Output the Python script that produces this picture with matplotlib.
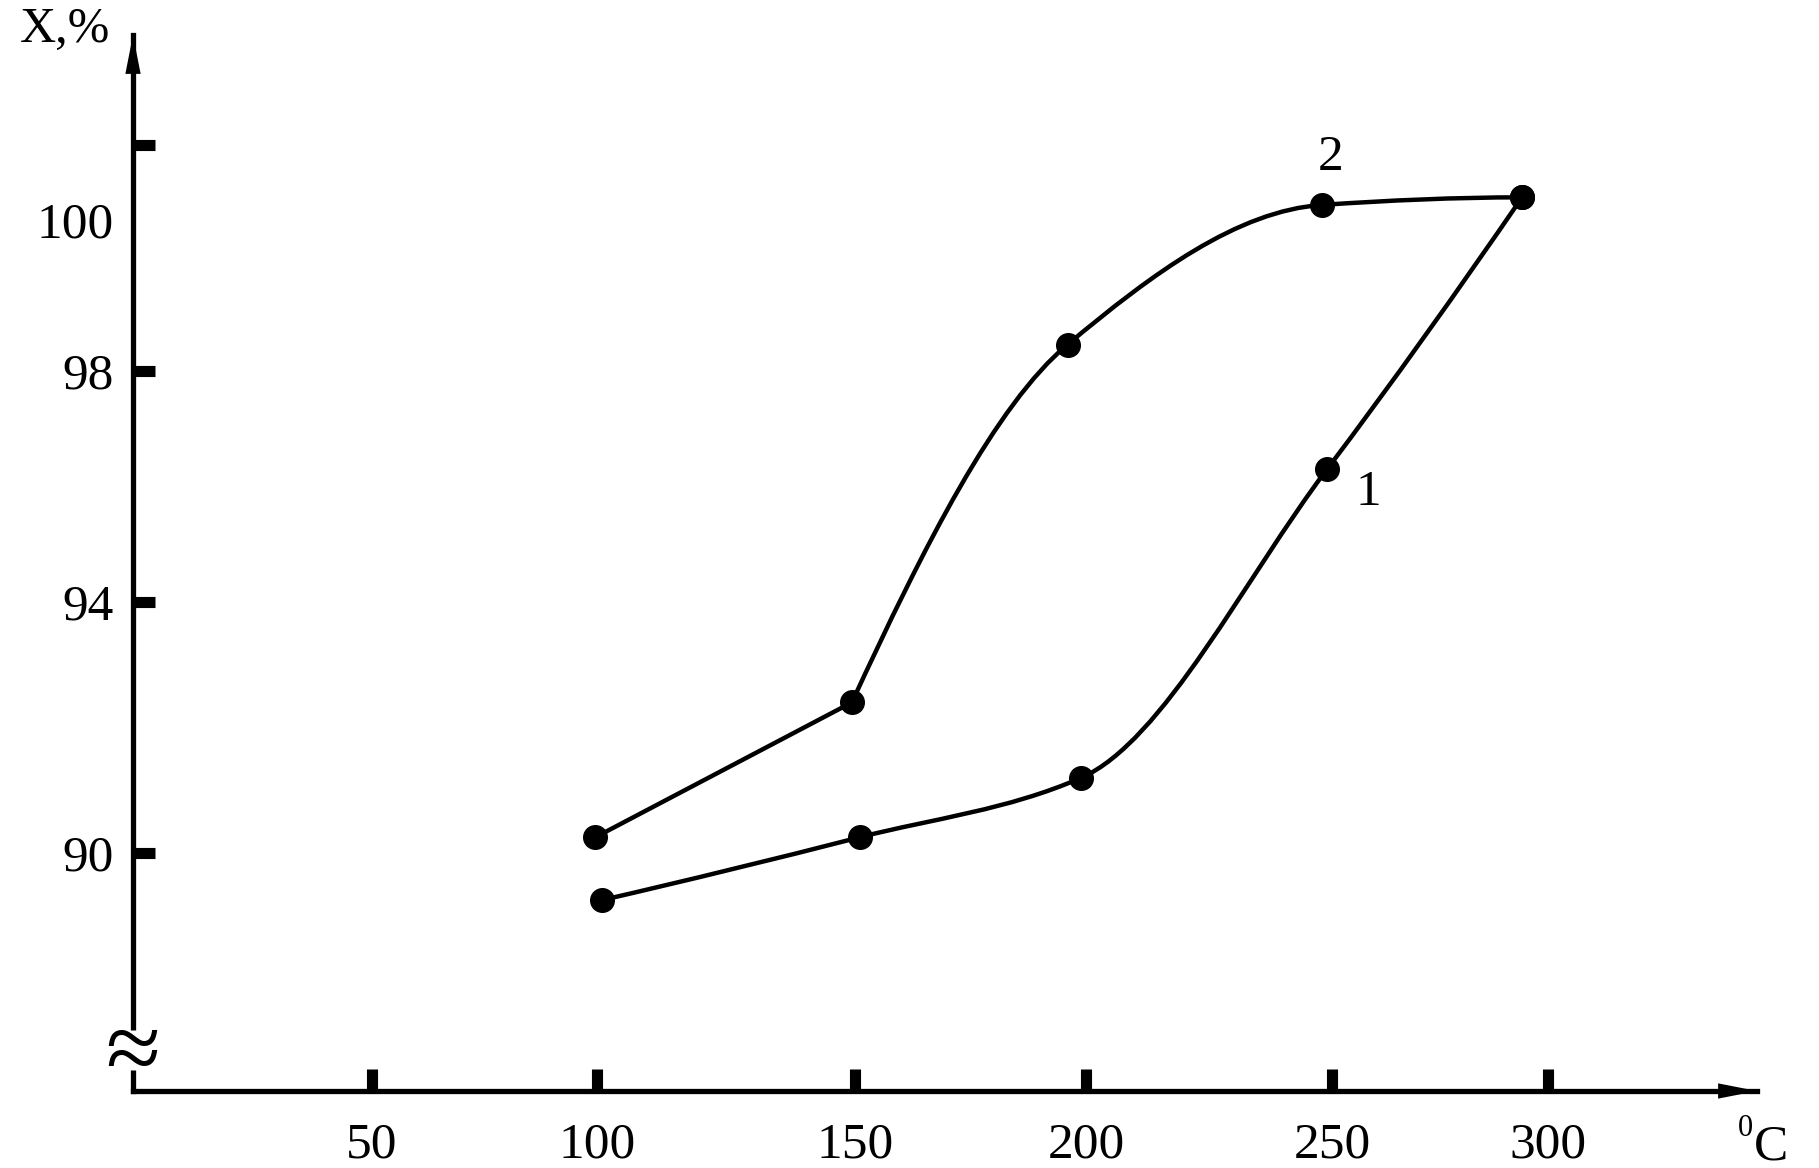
import numpy as np
import matplotlib
matplotlib.use('Agg')
import matplotlib.pyplot as plt
from matplotlib.path import Path
from matplotlib.patches import PathPatch

plt.rcParams['font.family'] = ['Liberation Serif', 'DejaVu Serif']

# temperature (deg C) and conversion X (%)
t1 = [101, 151, 199, 249, 294]
x1 = [89.25, 90.25, 91.2, 96.3, 100.3]
t2 = [99.6, 149.4, 196, 248, 294]
x2 = [90.25, 92.4, 98.35, 100.2, 100.3]
corners2 = [1]   # curve 2 is drawn with a sharp bend at 150 C

xticks = [50, 100, 150, 200, 250, 300]
yticks = [90, 94, 98, 100, 101]
ylabels = ['90', '94', '98', '100', '']

# the hand drawn axes are unevenly spaced: pixel position of the labelled values
xpix = [372, 597, 855, 1086, 1332, 1548]
yvals = [90, 94, 98, 100]
ypix = [853, 602, 371, 220]

W, H = 1819, 1168


def anchors(vals, pix):
    vals = np.asarray(vals, float)
    pix = np.asarray(pix, float)
    lo = pix[0] - (pix[1] - pix[0]) / (vals[1] - vals[0]) * 1000
    hi = pix[-1] + (pix[-1] - pix[-2]) / (vals[-1] - vals[-2]) * 1000
    return np.r_[vals[0] - 1000, vals, vals[-1] + 1000], np.r_[lo, pix, hi]


xv, xp = anchors(xticks, xpix)
yv, yp = anchors(yvals, -np.asarray(ypix, float))

fx = lambda v: np.interp(v, xv, xp)
ix = lambda p: np.interp(p, xp, xv)
fy = lambda v: np.interp(v, yv, yp)
iy = lambda p: np.interp(p, yp, yv)


def pchip_slopes(px, py):
    h = np.diff(px)
    m = np.diff(py) / h
    n = len(px)
    d = np.zeros(n)
    if n == 2:
        d[:] = m[0]
        return d
    for k in range(1, n - 1):
        if m[k - 1] * m[k] <= 0:
            d[k] = 0
        else:
            w1 = 2 * h[k] + h[k - 1]
            w2 = h[k] + 2 * h[k - 1]
            d[k] = (w1 + w2) / (w1 / m[k - 1] + w2 / m[k])

    def end(h0, h1, m0, m1):
        dd = ((2 * h0 + h1) * m0 - h0 * m1) / (h0 + h1)
        if np.sign(dd) != np.sign(m0):
            dd = 0
        elif np.sign(m0) != np.sign(m1) and abs(dd) > abs(3 * m0):
            dd = 3 * m0
        return dd

    d[0] = end(h[0], h[1], m[0], m[1])
    d[-1] = end(h[-1], h[-2], m[-1], m[-2])
    return d


def smooth_path(t, x, corners=()):
    px = fx(np.asarray(t, float))
    py = fy(np.asarray(x, float))
    cuts = [0] + list(corners) + [len(px) - 1]
    verts = [(px[0], py[0])]
    codes = [Path.MOVETO]
    for a, b in zip(cuts[:-1], cuts[1:]):
        sx, sy = px[a:b + 1], py[a:b + 1]
        d = pchip_slopes(sx, sy)
        for k in range(len(sx) - 1):
            h = sx[k + 1] - sx[k]
            verts += [(sx[k] + h / 3, sy[k] + d[k] * h / 3),
                      (sx[k + 1] - h / 3, sy[k + 1] - d[k + 1] * h / 3),
                      (sx[k + 1], sy[k + 1])]
            codes += [Path.CURVE4] * 3
    verts = np.array(verts)
    verts = np.column_stack([ix(verts[:, 0]), iy(verts[:, 1])])
    return Path(verts, codes)


fig = plt.figure(figsize=(W / 100, H / 100), dpi=100)
left, right, bottom, top = 133, 1757, 1091, 35
ax = fig.add_axes([left / W, 1 - bottom / H, (right - left) / W, (bottom - top) / H])
ax.set_xscale('function', functions=(fx, ix))
ax.set_yscale('function', functions=(fy, iy))
ax.set_xlim(ix(left), ix(right))
ax.set_ylim(iy(-bottom), iy(-top))

for t, x, c in [(t1, x1, ()), (t2, x2, corners2)]:
    ax.add_patch(PathPatch(smooth_path(t, x, c), fill=False, ec='k', lw=3.2,
                           capstyle='round', joinstyle='round', zorder=3))
    ax.plot(t, x, 'o', color='k', ms=17, zorder=4, clip_on=False)

for s in ['top', 'right']:
    ax.spines[s].set_visible(False)
for s in ['left', 'bottom']:
    ax.spines[s].set_linewidth(3.8)

ax.set_xticks(xticks, labels=[str(v) for v in xticks])
ax.set_yticks(yticks, labels=ylabels)
ax.yaxis.get_major_ticks()[3].tick1line.set_visible(False)
ax.tick_params(direction='in', length=16, width=8, labelsize=37, colors='k')
ax.tick_params(axis='x', pad=22)
ax.tick_params(axis='y', pad=14)

arrow = dict(arrowstyle='-|>,head_length=2.8,head_width=0.55', fc='k', ec='k',
             lw=0, shrinkA=0, shrinkB=0)
ax.annotate('', xy=(0, 1), xytext=(0, 0.9), xycoords='axes fraction',
            arrowprops=arrow, annotation_clip=False)
ax.annotate('', xy=(1, 0), xytext=(0.9, 0), xycoords='axes fraction',
            arrowprops=arrow, annotation_clip=False)

# axis break on the y axis
x0 = ax.get_xlim()[0]
ax.plot([x0, x0], [iy(-1070), iy(-1030)], color='w', lw=8,
        solid_capstyle='butt', clip_on=False, zorder=3)
ax.text(x0, iy(-1081), '\u2248', fontsize=72, ha='center', va='baseline',
        zorder=4, clip_on=False)

ax.annotate('2', xy=(t2[3], x2[3]), xytext=(6, 34), textcoords='offset points',
            fontsize=37, ha='center', va='center')
ax.annotate('1', xy=(t1[3], x1[3]), xytext=(30, -17), textcoords='offset points',
            fontsize=37, ha='center', va='center')

fig.text(20 / W, 1 - 42 / H, 'X,%', fontsize=36, ha='left', va='baseline')
fig.text(1754 / W, 1 - 1160 / H, 'C', fontsize=37, ha='left', va='baseline')
fig.text(1738 / W, 1 - 1136 / H, '0', fontsize=22, ha='left', va='baseline')

fig.savefig('out.png', dpi=100)
